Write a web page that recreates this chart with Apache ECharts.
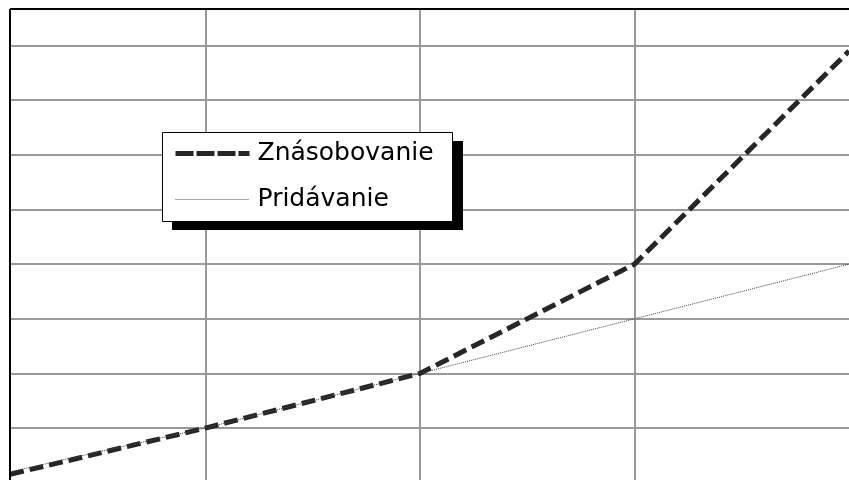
<!DOCTYPE html>
<html>
<head>
<meta charset="utf-8">
<script src="https://cdn.jsdelivr.net/npm/echarts@6/dist/echarts.min.js"></script>
<style>
html,body{margin:0;padding:0;background:#fff;}
#chart{width:849px;height:480px;}
</style>
</head>
<body>
<div id="chart"></div>
<script>
const categories = [0, 1, 2, 3, 4];
const znasobovanie = [0.07, 1, 2, 4, 7.9];
const pridavanie = [0.12, 1, 2, 3, 4];
const seriesNames = ['Znásobovanie', 'Pridávanie'];
const xGridValues = [1, 2, 3];
const yGridValues = [1, 2, 3, 4, 5, 6, 7, 8];
const xMin = 0.09, xMax = 4;
const yMin = 0.05, yMax = 8.67;

const pairs = (vals) => categories.map((c, i) => [c, vals[i]]);

const chart = echarts.init(document.getElementById('chart'), null, {renderer: 'canvas'});
chart.setOption({
  backgroundColor: '#ffffff',
  animation: false,
  color: ['#262626', '#444444'],
  grid: {left: 10, right: 0, top: 9, bottom: 0, containLabel: false},
  xAxis: {
    type: 'value',
    min: xMin, max: xMax,
    axisLine: {show: false},
    axisTick: {show: false, customValues: xGridValues},
    axisLabel: {show: false, customValues: xGridValues},
    splitLine: {show: true, lineStyle: {color: '#999999', width: 2}}
  },
  yAxis: {
    type: 'value',
    min: yMin, max: yMax,
    axisLine: {show: false},
    axisTick: {show: false, customValues: yGridValues},
    axisLabel: {show: false, customValues: yGridValues},
    splitLine: {show: true, lineStyle: {color: '#999999', width: 2}}
  },
  legend: {
    orient: 'vertical',
    left: 162, top: 132,
    z: 20,
    padding: [9, 18, 11, 11],
    itemWidth: 74, itemHeight: 24, itemGap: 21,
    itemStyle: {opacity: 0},
    textStyle: {fontFamily: 'DejaVu Sans', fontSize: 25, color: '#000', lineHeight: 24, padding: [0, 0, 0, 3]},
    data: [
      {name: seriesNames[0], itemStyle: {opacity: 0}, lineStyle: {type: [18, 3], width: 5, color: '#262626'}},
      {name: seriesNames[1], itemStyle: {opacity: 0}, lineStyle: {type: [1, 1], width: 1, color: '#555555'}}
    ]
  },
  graphic: [
    {type: 'line', z: 100, shape: {x1: 10, y1: 9, x2: 849, y2: 9}, style: {stroke: '#000', lineWidth: 2}},
    {type: 'line', z: 100, shape: {x1: 10, y1: 9, x2: 10, y2: 480}, style: {stroke: '#000', lineWidth: 2}},
    {type: 'rect', z: 8, shape: {x: 172, y: 141, width: 291, height: 89}, style: {fill: '#000'}},
    {type: 'rect', z: 9, shape: {x: 162.5, y: 132.5, width: 290, height: 89}, style: {fill: '#fff', stroke: '#000', lineWidth: 1}}
  ],
  series: [
    {
      name: seriesNames[0], type: 'line', data: pairs(znasobovanie),
      symbol: 'none', z: 3,
      lineStyle: {color: '#262626', width: 5, type: [14, 6]}
    },
    {
      name: seriesNames[1], type: 'line', data: pairs(pridavanie),
      symbol: 'none', z: 4,
      lineStyle: {color: '#444444', width: 1, type: [1, 1]}
    }
  ]
});
</script>
</body>
</html>
